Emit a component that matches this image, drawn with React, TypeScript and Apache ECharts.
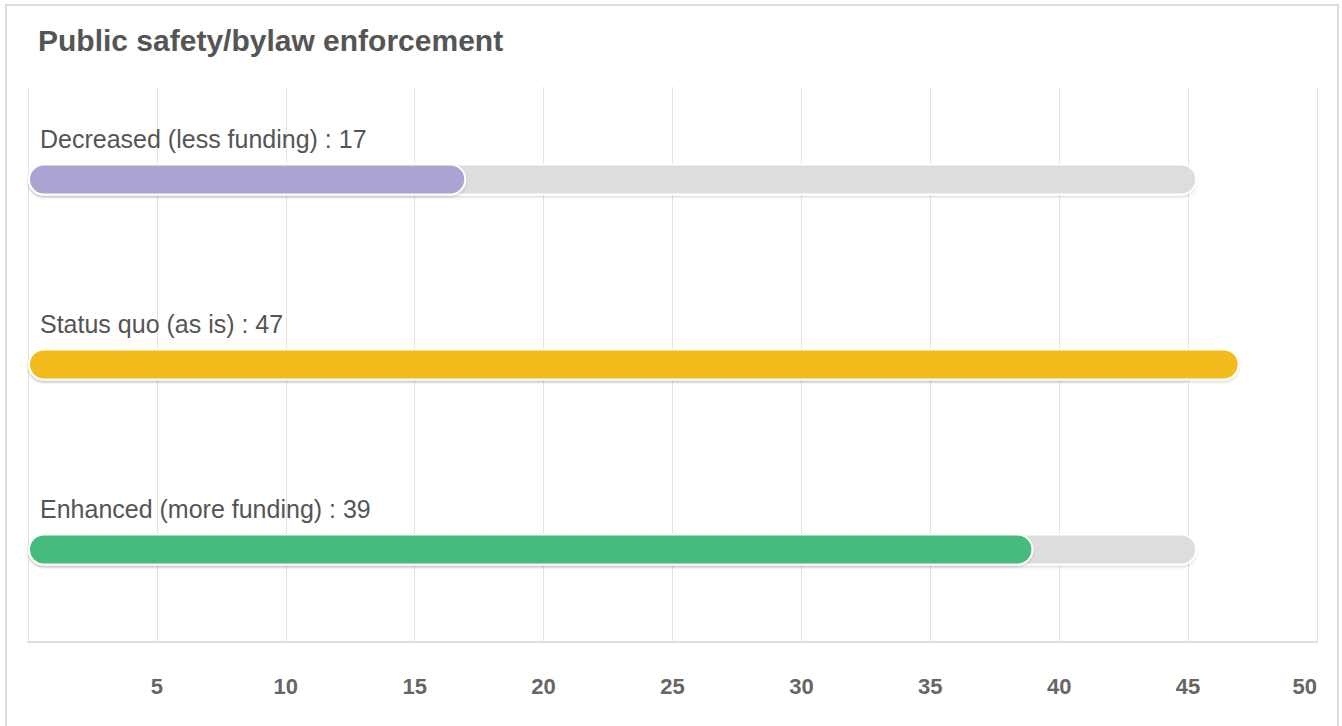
import React, { useEffect, useRef } from "react";
import * as echarts from "echarts";

const categories = ["Decreased (less funding)", "Status quo (as is)", "Enhanced (more funding)"];
const values = [17, 47, 39];
const trackValues = [45.35, 45.35, 45.35];
const barColors = ["#aba3d1", "#f3bb1b", "#44bb7b"];
const titleText = "Public safety/bylaw enforcement";

export default function App() {
  const ref = useRef<HTMLDivElement>(null);
  useEffect(() => {
    if (!ref.current) return;
    const chart = echarts.init(ref.current, undefined, { renderer: "svg" });
    const font = "'Liberation Sans', Arial, Helvetica, sans-serif";
    chart.setOption({
      animation: false,
      textStyle: { fontFamily: font },
      title: {
        text: titleText,
        left: 33,
        top: 20,
        textStyle: { fontSize: 30, fontWeight: "bold", color: "#555", fontFamily: font },
      },
      graphic: [
        {
          type: "rect",
          shape: { x: 6, y: 5, width: 1332, height: 740 },
          style: { fill: "none", stroke: "#dddddd", lineWidth: 2 },
          silent: true,
        },
      ],
      grid: { left: 28, right: 25, top: 87, bottom: 84 },
      xAxis: {
        type: "value",
        min: 0,
        max: 50,
        interval: 5,
        axisLine: { show: true, lineStyle: { color: "#dddddd", width: 2 } },
        axisTick: { show: false },
        splitLine: { show: true, lineStyle: { color: "#e2e2e2", width: 1 } },
        axisLabel: {
          margin: 33,
          fontSize: 22,
          fontWeight: "bold",
          color: "#666",
          fontFamily: font,
          alignMaxLabel: "right",
          formatter: (v: number) => (v === 0 ? "" : String(v)),
        },
      },
      yAxis: {
        type: "category",
        data: categories,
        inverse: true,
        show: false,
      },
      series: [
        {
          type: "bar",
          data: trackValues,
          barWidth: 32,
          barGap: "-100%",
          silent: true,
          z: 1,
          itemStyle: {
            color: "#dddddd",
            borderRadius: 16,
            borderColor: "#ffffff",
            borderWidth: 2,
            shadowColor: "rgba(0,0,0,0.12)",
            shadowOffsetY: 2,
            shadowBlur: 2,
          },
        },
        {
          type: "bar",
          data: values.map((v, i) => ({ value: v, itemStyle: { color: barColors[i] } })),
          barWidth: 32,
          barGap: "-100%",
          z: 2,
          itemStyle: {
            borderRadius: 16,
            borderColor: "#ffffff",
            borderWidth: 2,
            shadowColor: "rgba(0,0,0,0.12)",
            shadowOffsetY: 2,
            shadowBlur: 2,
          },
          label: {
            show: true,
            position: [12, -37],
            formatter: "{b} : {c}",
            fontSize: 25,
            color: "#555",
            fontFamily: font,
          },
        },
      ],
    });
    return () => chart.dispose();
  }, []);
  return (
    <div
      ref={ref}
      style={{ position: "absolute", left: 0, top: 0, width: 1342, height: 726, background: "#fff" }}
    />
  );
}
